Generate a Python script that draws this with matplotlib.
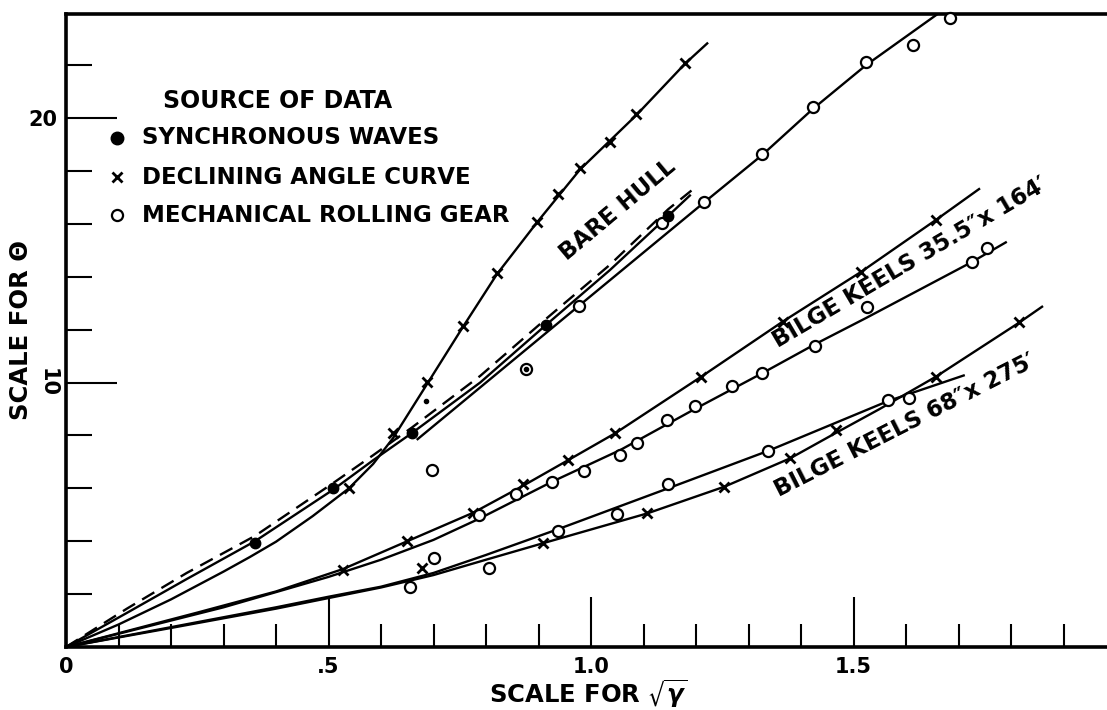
import matplotlib
matplotlib.use("Agg")
import matplotlib.pyplot as plt

# ── Bare hull ────────────────────────────────────────────────────────────────
# declining angle curve: S-shaped faired line + x points
bh_decl_line_x = [0, 0.10, 0.20, 0.30, 0.35, 0.40, 0.47, 0.539, 0.585, 0.623, 0.688,
                  0.756, 0.821, 0.897, 0.979, 1.086, 1.179, 1.223]
bh_decl_line_y = [0, 0.85, 1.80, 2.85, 3.40, 3.98, 4.95, 6.00, 6.92, 7.90, 9.95,
                  12.1, 14.1, 16.05, 18.05, 20.1, 22.05, 22.85]
bh_decl_x = [0.539, 0.623, 0.688, 0.756, 0.821, 0.897, 0.937, 0.979, 1.036, 1.086, 1.179]
bh_decl_y = [6.01, 8.09, 10.02, 12.14, 14.14, 16.07, 17.13, 18.11, 19.09, 20.15, 22.08]

# synchronous waves: faired line + filled points
bh_sync_line_x = [0, 0.116, 0.23, 0.36, 0.509, 0.585, 0.659, 0.789, 0.914, 1.036, 1.147, 1.19]
bh_sync_line_y = [0, 1.29, 2.57, 4.00, 5.95, 7.06, 8.09, 10.0, 12.17, 14.25, 16.3, 17.1]
bh_sync_x = [0.36, 0.509, 0.659, 0.914, 1.147]
bh_sync_y = [3.93, 6.00, 8.09, 12.17, 16.30]

# dashed line running just above the synchronous one
bh_dash_x = [0, 0.116, 0.23, 0.36, 0.509, 0.585, 0.659, 0.789, 0.914, 1.036, 1.147, 1.194]
bh_dash_y = [0, 1.45, 2.80, 4.20, 6.20, 7.25, 8.30, 10.25, 12.40, 14.45, 16.55, 17.30]

# mechanical rolling gear: faired line + open points
bh_gear_line_x = [0.668, 0.977, 1.215, 1.326, 1.423, 1.524, 1.665]
bh_gear_line_y = [7.83, 12.90, 16.80, 18.60, 20.35, 22.00, 24.00]
bh_gear_x = [0.697, 0.876, 0.977, 1.135, 1.215, 1.326, 1.423, 1.524, 1.613, 1.684]
bh_gear_y = [6.69, 10.51, 12.90, 16.03, 16.82, 18.64, 20.42, 22.12, 22.76, 23.78]
stray_dot_x = [0.686, 0.876]
stray_dot_y = [9.30, 10.51]

# ── Bilge keels 35.5" x 164' ────────────────────────────────────────────────
bk1_decl_line_x = [0, 0.25, 0.40, 0.528, 0.649, 0.776, 0.871, 0.957, 1.046, 1.21, 1.365, 1.515, 1.658, 1.741]
bk1_decl_line_y = [0, 1.30, 2.10, 2.95, 3.99, 5.08, 6.10, 7.07, 8.08, 10.22, 12.30, 14.19, 16.16, 17.34]
bk1_decl_x = [0.528, 0.649, 0.776, 0.871, 0.957, 1.046, 1.21, 1.365, 1.515, 1.658]
bk1_decl_y = [2.93, 3.99, 5.05, 6.18, 7.07, 8.08, 10.22, 12.30, 14.19, 16.16]

bk1_gear_line_x = [0, 0.30, 0.50, 0.60, 0.70, 0.787, 0.926, 1.056, 1.198, 1.326, 1.427, 1.525, 1.725, 1.792]
bk1_gear_line_y = [0, 1.50, 2.65, 3.30, 4.05, 4.85, 6.25, 7.45, 9.00, 10.35, 11.45, 12.45, 14.55, 15.32]
bk1_gear_x = [0.787, 0.857, 0.926, 0.987, 1.056, 1.087, 1.144, 1.198, 1.268,
              1.326, 1.427, 1.525, 1.725, 1.755]
bk1_gear_y = [4.99, 5.80, 6.23, 6.67, 7.26, 7.70, 8.58, 9.11, 9.87,
              10.37, 11.38, 12.84, 14.57, 15.10]

# ── Bilge keels 68" x 275' ──────────────────────────────────────────────────
bk2_decl_line_x = [0, 0.20, 0.40, 0.50, 0.60, 0.70, 0.80, 0.908, 1.107, 1.254, 1.379, 1.467, 1.55, 1.657, 1.816, 1.861]
bk2_decl_line_y = [0, 0.72, 1.45, 1.85, 2.25, 2.72, 3.30, 3.92, 5.05, 6.06, 7.13, 8.10, 9.00, 10.22, 12.27, 12.89]
bk2_decl_x = [0.678, 0.908, 1.107, 1.254, 1.379, 1.467, 1.657, 1.816]
bk2_decl_y = [2.98, 3.92, 5.05, 6.06, 7.13, 8.20, 10.22, 12.27]

bk2_gear_line_x = [0, 0.20, 0.40, 0.50, 0.60, 0.70, 0.80, 0.938, 1.147, 1.338, 1.566, 1.712]
bk2_gear_line_y = [0, 0.75, 1.50, 1.90, 2.28, 2.80, 3.48, 4.46, 6.00, 7.42, 9.30, 10.28]
bk2_gear_x = [0.655, 0.70, 0.806, 0.938, 1.049, 1.147, 1.338, 1.566, 1.606]
bk2_gear_y = [2.28, 3.35, 2.97, 4.40, 5.03, 6.18, 7.42, 9.34, 9.40]

# ── Axis scales ─────────────────────────────────────────────────────────────
x_major       = [0, 0.5, 1.0, 1.5]
x_major_label = ["0", ".5", "1.0", "1.5"]
x_minor       = [0.1, 0.2, 0.3, 0.4, 0.6, 0.7, 0.8, 0.9, 1.1, 1.2, 1.3, 1.4, 1.6, 1.7, 1.8, 1.9]
y_major       = [10, 20]
y_major_label = ["10", "20"]
y_minor       = [2, 4, 6, 8, 12, 14, 16, 18, 22]

legend_title = "SOURCE OF DATA"
legend_rows  = ["SYNCHRONOUS WAVES", "DECLINING ANGLE CURVE", "MECHANICAL ROLLING GEAR"]

W, H = 1107, 710
plt.rcParams["font.family"] = ["DejaVu Sans"]
plt.rcParams["font.weight"] = "bold"
plt.rcParams["mathtext.fontset"] = "dejavusans"

fig = plt.figure(figsize=(W / 100, H / 100), dpi=100)
ax = fig.add_axes([66 / W, 63 / H, 1041 / W, 633 / H])
ax.set_xlim(0, 1041 / 525)
ax.set_ylim(0, 633 / 26.45)


def fpx(x, y):
    # reference pixel -> figure fraction
    return x / W, 1 - y / H


LW = 1.7
line_kw = dict(color="black", lw=LW, solid_capstyle="butt", zorder=3)
ax.plot(bh_decl_line_x, bh_decl_line_y, **line_kw)
ax.plot(bh_sync_line_x, bh_sync_line_y, **line_kw)
ax.plot(bh_dash_x, bh_dash_y, color="black", lw=LW, dashes=(6, 3.5), zorder=3)
ax.plot(bh_gear_line_x, bh_gear_line_y, **line_kw)
ax.plot(bk1_decl_line_x, bk1_decl_line_y, **line_kw)
ax.plot(bk1_gear_line_x, bk1_gear_line_y, **line_kw)
ax.plot(bk2_decl_line_x, bk2_decl_line_y, **line_kw)
ax.plot(bk2_gear_line_x, bk2_gear_line_y, **line_kw)

cross_kw = dict(ls="none", marker="x", ms=6.5, mew=2.0, color="black", zorder=5, clip_on=False)
open_kw  = dict(ls="none", marker="o", ms=8, mew=1.6, mfc="white", mec="black", zorder=5, clip_on=False)
fill_kw  = dict(ls="none", marker="o", ms=7.5, color="black", zorder=5, clip_on=False)

ax.plot(bh_decl_x, bh_decl_y, **cross_kw)
ax.plot(bk1_decl_x, bk1_decl_y, **cross_kw)
ax.plot(bk2_decl_x, bk2_decl_y, **cross_kw)
ax.plot(bh_gear_x, bh_gear_y, **open_kw)
ax.plot(bk1_gear_x, bk1_gear_y, **open_kw)
ax.plot(bk2_gear_x, bk2_gear_y, **open_kw)
ax.plot(bh_sync_x, bh_sync_y, **fill_kw)
ax.plot(stray_dot_x, stray_dot_y, ls="none", marker="o", ms=3, color="black", zorder=6)

# ── Frame & ticks ───────────────────────────────────────────────────────────
ax.spines["right"].set_visible(False)
for s in ("left", "bottom", "top"):
    ax.spines[s].set_linewidth(2.6)

ax.set_xticks(x_major, labels=x_major_label)
ax.set_xticks(x_minor, minor=True)
ax.set_yticks(y_major, labels=y_major_label)
ax.set_yticks(y_minor, minor=True)
ax.tick_params(axis="x", which="major", direction="in", length=36, width=1.5,
               labelsize=15, pad=7)
ax.tick_params(axis="x", which="minor", direction="in", length=16.5, width=1.5)
ax.tick_params(axis="y", which="major", direction="in", length=37, width=1.5,
               labelsize=15, pad=6)
ax.tick_params(axis="y", which="minor", direction="in", length=19, width=1.5)
ax.get_yticklabels()[0].set_rotation(-90)
ax.get_yticklabels()[0].set_va("center")

fig.text(*fpx(588, 694), r"SCALE FOR $\sqrt{\gamma}$", ha="center", va="center", fontsize=17.5)
fig.text(*fpx(21, 330), "SCALE FOR Θ", ha="center", va="center", fontsize=17.5, rotation=90)

# ── Legend ──────────────────────────────────────────────────────────────────
fig.text(*fpx(163, 101), legend_title, ha="left", va="center", fontsize=17)
row_y = [138, 177, 215]
markers = [dict(marker="o", ms=9, color="black"),
           dict(marker="x", ms=6.5, mew=2, color="black"),
           dict(marker="o", ms=8, mew=1.6, mfc="white", mec="black")]
for label, yy, mk in zip(legend_rows, row_y, markers):
    fx, fy = fpx(117, yy)
    fig.add_artist(plt.Line2D([fx], [fy], ls="none", transform=fig.transFigure, **mk))
    fig.text(*fpx(142, yy), label, ha="left", va="center", fontsize=16.5)

# ── Curve labels ────────────────────────────────────────────────────────────
fig.text(*fpx(618, 210), "BARE HULL", ha="center", va="center",
         fontsize=16.5, rotation=40, rotation_mode="anchor")
fig.text(*fpx(910, 263), "BILGE KEELS 35.5\u2033x 164\u2032", ha="center", va="center",
         fontsize=16.5, rotation=30.5, rotation_mode="anchor")
fig.text(*fpx(905, 425), "BILGE KEELS 68\u2033x 275\u2032", ha="center", va="center",
         fontsize=16.5, rotation=27, rotation_mode="anchor")

fig.savefig("out.png", dpi=100)
